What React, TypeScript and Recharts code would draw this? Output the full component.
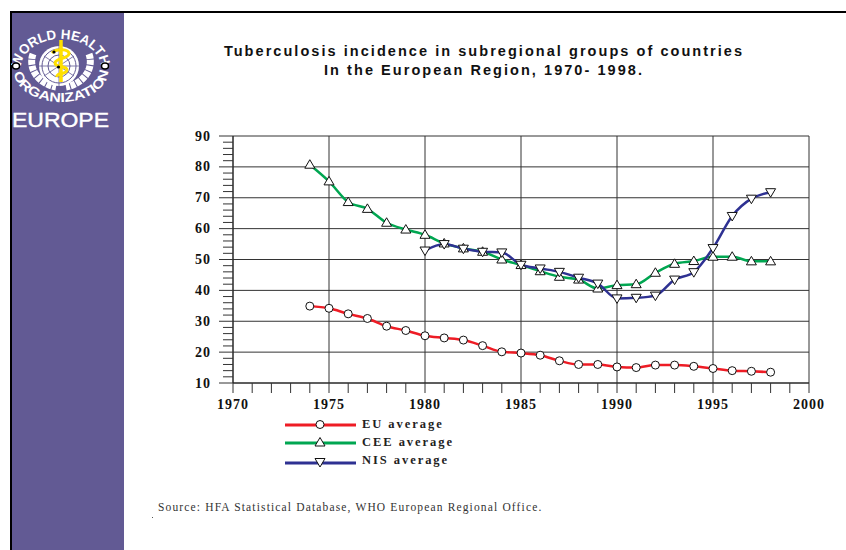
import React from "react";
import { LineChart, Line, XAxis, YAxis, CartesianGrid, Legend } from "recharts";

const years = [1974,1975,1976,1977,1978,1979,1980,1981,1982,1983,1984,1985,1986,1987,1988,1989,1990,1991,1992,1993,1994,1995,1996,1997,1998];
const euAverage = [34.9,34.2,32.4,30.9,28.4,27,25.3,24.6,23.9,22.1,20.1,19.7,19,17.2,16,16,15.2,15,15.8,15.8,15.4,14.7,14,13.8,13.5];
const ceeAverage = [80.7,75.3,68.6,66.4,61.9,59.7,58,55.2,53.6,52.5,50,48.2,46.2,44.4,43.5,40.6,41.7,42,45.7,48.6,49.5,50.9,50.9,49.4,49.4];
const nisAverage = [null,null,null,null,null,null,52.9,55,53.5,52.5,52.3,48.3,47.1,46,44.1,42.2,37.4,37.6,38.3,43.5,45.9,53.7,64.1,69.7,71.8];
const xTicks = [1970,1971,1972,1973,1974,1975,1976,1977,1978,1979,1980,1981,1982,1983,1984,1985,1986,1987,1988,1989,1990,1991,1992,1993,1994,1995,1996,1997,1998,1999,2000];
const yTicks = [10,12,14,16,18,20,22,24,26,28,30,32,34,36,38,40,42,44,46,48,50,52,54,56,58,60,62,64,66,68,70,72,74,76,78,80,82,84,86,88,90];
const xGrid = [1970,1975,1980,1985,1990,1995,2000];
const yGrid = [10,20,30,40,50,60,70,80,90];
const titleLines = ["Tuberculosis incidence in subregional groups of countries", "In the European Region, 1970- 1998."];
const sourceText = "Source: HFA Statistical Database, WHO European Regional Office.";

const rows = years.map((year, i) => ({ year, eu: euAverage[i], cee: ceeAverage[i], nis: nisAverage[i] }));

const SERIF = "'Liberation Serif', serif";
const SANS = "'Liberation Sans', sans-serif";
const RED = "#ee1c25";
const GREEN = "#00a651";
const BLUE = "#2e3192";
const PURPLE = "#625a94";

function Marker({ kind, cx, cy }: { kind: string; cx: number; cy: number }) {
  if (cx == null || cy == null) return null;
  if (kind === "eu") return <circle cx={cx} cy={cy} r={4} fill="#fff" stroke="#111" strokeWidth={1} />;
  if (kind === "cee") return <path d={`M${cx} ${cy - 5}L${cx + 5} ${cy + 3.5}L${cx - 5} ${cy + 3.5}Z`} fill="#fff" stroke="#111" strokeWidth={1} />;
  return <path d={`M${cx} ${cy + 5}L${cx + 5} ${cy - 3.5}L${cx - 5} ${cy - 3.5}Z`} fill="#fff" stroke="#111" strokeWidth={1} />;
}

const dotFor = (kind: string) => (p: any) => <Marker key={p.index} kind={kind} cx={p.cx} cy={p.cy} />;

function XTick({ x, payload }: any) {
  const major = payload.value % 5 === 0;
  return (
    <g>
      <line x1={x} x2={x} y1={383} y2={393} stroke="#333" strokeWidth={1} />
      {major && (
        <text x={x} y={409} textAnchor="middle" fontFamily={SERIF} fontWeight="bold" fontSize={14} letterSpacing={1} fill="#111">
          {payload.value}
        </text>
      )}
    </g>
  );
}

function YTick({ y, payload }: any) {
  const major = payload.value % 10 === 0;
  return (
    <g>
      <line x1={major ? 219 : 223} x2={233} y1={y} y2={y} stroke="#333" strokeWidth={1} />
      {major && (
        <text x={211} y={y + 4.5} textAnchor="end" fontFamily={SERIF} fontWeight="bold" fontSize={14} letterSpacing={1} fill="#111">
          {payload.value}
        </text>
      )}
    </g>
  );
}

const legendRows = [
  { kind: "eu", label: "EU average", color: RED, y: 425 },
  { kind: "cee", label: "CEE average", color: GREEN, y: 443 },
  { kind: "nis", label: "NIS average", color: BLUE, y: 463 },
];

function LegendContent() {
  return (
    <svg width={300} height={60} style={{ display: "block" }}>
      {legendRows.map((r) => {
        const y = r.y - 418;
        return (
          <g key={r.kind}>
            <line x1={5} x2={76} y1={y} y2={y} stroke={r.color} strokeWidth={3} />
            <Marker kind={r.kind} cx={40} cy={r.kind === "nis" ? y - 1 : y - 0.5} />
            <text x={82} y={r.kind === "nis" ? y + 1 : y + 3} fontFamily={SERIF} fontWeight="bold" fontSize={12.5} letterSpacing={1.95} fill="#222">
              {r.label}
            </text>
          </g>
        );
      })}
    </svg>
  );
}

function Logo() {
  const cx = 61, cy = 66;
  return (
    <svg width={114} height={130} viewBox="0 0 114 130" style={{ position: "absolute", left: 11, top: 12 }}>
      <g transform="translate(-11,-12)">
        <defs>
          <path id="arcTop" d={`M${cx - 40} ${cy + 2}A40 29 0 0 1 ${cx + 40} ${cy + 2}`} />
          <path id="arcBot" d={`M${cx - 47} ${cy + 5}A47 31 0 0 0 ${cx + 47} ${cy + 5}`} />
        </defs>
        <path d={`M${cx - 28} ${cy - 12}A31 26 0 0 0 ${cx - 5} ${cy + 21}M${cx + 28} ${cy - 12}A31 26 0 0 1 ${cx + 5} ${cy + 21}`} stroke="#fff" strokeWidth={7} fill="none" strokeDasharray="5 1" />
        <circle cx={cx - 2} cy={cy} r={20} fill="#fff" />
        <circle cx={cx - 2} cy={cy} r={17} fill="none" stroke={PURPLE} strokeWidth={1} />
        <circle cx={cx - 2} cy={cy} r={11} fill="none" stroke={PURPLE} strokeWidth={1} />
        <path d={`M${cx - 22} ${cy}H${cx + 18}M${cx - 2} ${cy - 20}V${cy + 20}M${cx - 17} ${cy - 10}L${cx + 13} ${cy + 10}M${cx - 17} ${cy + 10}L${cx + 13} ${cy - 10}`} stroke={PURPLE} strokeWidth={0.8} />
        <text fontFamily={SANS} fontWeight="bold" fontSize={13.5} fill="#fff">
          <textPath href="#arcTop" textLength={107} lengthAdjust="spacingAndGlyphs">WORLD HEALTH</textPath>
        </text>
        <text fontFamily={SANS} fontWeight="bold" fontSize={13} fill="#fff">
          <textPath href="#arcBot" textLength={122} lengthAdjust="spacingAndGlyphs" startOffset="2">ORGANIZATION</textPath>
        </text>
        <ellipse cx={16} cy={66} rx={3.5} ry={3} fill="#fff" stroke="#000" strokeWidth={1.5} />
        <ellipse cx={105} cy={66} rx={3.5} ry={3} fill="#fff" stroke="#000" strokeWidth={1.5} />
        <line x1={61} x2={61} y1={40} y2={82} stroke="#ffe000" strokeWidth={3.5} />
        <path d="M52 53C56 48 70 49 69 54C68 59 55 58 55 63C55 68 67 65 67 70C67 75 56 72 57 77" stroke="#ffe000" strokeWidth={3} fill="none" />
        <circle cx={54} cy={52} r={1.6} fill="#000" />
        <circle cx={58.5} cy={67} r={1.6} fill="#000" />
        <text x={12} y={127} fontFamily={SANS} fontSize={21} fill="#fff" stroke="#fff" strokeWidth={0.4} textLength={97} lengthAdjust="spacingAndGlyphs">EUROPE</text>
      </g>
    </svg>
  );
}

export default function App() {
  return (
    <div style={{ position: "absolute", left: 0, top: 0, width: 846, height: 550, background: "#fff", overflow: "hidden" }}>
      <div style={{ position: "absolute", left: 10, top: 11, right: 0, height: 2, background: "#000" }} />
      <div style={{ position: "absolute", left: 10, top: 11, bottom: 0, width: 2, background: "#000" }} />
      <div style={{ position: "absolute", left: 12, top: 13, width: 112, bottom: 0, background: PURPLE }} />
      <Logo />
      {titleLines.map((t, i) => (
        <div key={i} style={{ position: "absolute", left: 124, width: 720, textAlign: "center", top: 42 + i * 19, fontFamily: SANS, fontWeight: "bold", fontSize: 14.5, letterSpacing: 2.05, color: "#111", whiteSpace: "nowrap", lineHeight: "18px" }}>
          {t}
        </div>
      ))}
      <div style={{ position: "absolute", left: 158, top: 500, fontFamily: SERIF, fontSize: 11.5, letterSpacing: 1.15, color: "#333", whiteSpace: "nowrap", lineHeight: "14px" }}>
        {sourceText}
      </div>
      <div style={{ position: "absolute", left: 152, top: 517, width: 1, height: 1, background: "#555" }} />
      <div style={{ position: "absolute", left: 0, top: 0 }}>
        <LineChart width={846} height={550} data={rows} margin={{ top: 136, right: 37, bottom: 137, left: 173 }}>
          <CartesianGrid horizontalValues={yGrid} verticalValues={xGrid} stroke="#333" strokeWidth={1} />
          <XAxis dataKey="year" type="number" domain={[1970, 2000]} ticks={xTicks} interval={0} height={30} tick={<XTick />} tickLine={false} axisLine={{ stroke: "#222" }} />
          <YAxis type="number" domain={[10, 90]} ticks={yTicks} interval={0} width={60} tick={<YTick />} tickLine={false} axisLine={{ stroke: "#222" }} />
          <Line dataKey="eu" name="EU average" type="monotone" stroke={RED} strokeWidth={2.5} dot={dotFor("eu")} isAnimationActive={false} />
          <Line dataKey="cee" name="CEE average" type="monotone" stroke={GREEN} strokeWidth={2.5} dot={dotFor("cee")} isAnimationActive={false} />
          <Line dataKey="nis" name="NIS average" type="monotone" stroke={BLUE} strokeWidth={2.5} dot={dotFor("nis")} isAnimationActive={false} />
          <Legend layout="horizontal" verticalAlign="middle" content={<LegendContent />} wrapperStyle={{ position: "absolute", left: 280, top: 418, width: 300, height: 60 }} />
        </LineChart>
      </div>
    </div>
  );
}
